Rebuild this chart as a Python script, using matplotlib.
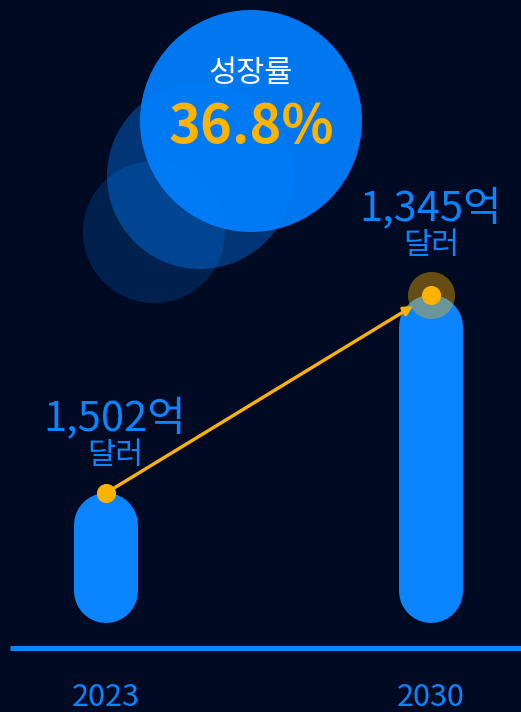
import matplotlib.pyplot as plt
from matplotlib.patches import Circle

plt.rcParams['font.family'] = ['Noto Sans CJK KR', 'DejaVu Sans']

# data
years = ["2023", "2030"]
amount_labels = ["1,502억", "1,345억"]
unit_label = "달러"
bar_heights = [130, 328]   # bar height as drawn (px units above the baseline)
growth_title = "성장률"
growth_value = "36.8%"

bg = "#000a23"
blue = "#0a84ff"
orange = "#ffb300"

fig = plt.figure(figsize=(5.21, 7.12), dpi=100, facecolor=bg)

# decoration layer in pixel coordinates
deco = fig.add_axes([0, 0, 1, 1])
deco.set_xlim(0, 521)
deco.set_ylim(712, 0)
deco.set_aspect("equal")
deco.axis("off")
deco.set_facecolor(bg)
deco.add_patch(Circle((154, 232), 71, color="#0080ff", alpha=0.2, lw=0))
deco.add_patch(Circle((200, 176), 93, color="#0080ff", alpha=0.38, lw=0))
deco.add_patch(Circle((251, 121), 111, color="#0080ff", alpha=0.93, lw=0))
deco.text(251, 74, growth_title, color="white", fontsize=22, ha="center", va="center")
deco.text(251, 127, growth_value, color=orange, fontsize=39, fontweight="bold",
          ha="center", va="center")

# chart layer
ax = fig.add_axes([0, 0, 1, 1])
ax.patch.set_alpha(0)
ax.set_xlim(-0.326, 1.277)
ax.set_ylim(-89, 623)
ax.axis("off")

bar_w_px = 64
lw_pt = bar_w_px * 72 / 100
r = bar_w_px / 2
for i, h in enumerate(bar_heights):
    ax.plot([i, i], [r, h - r], color=blue, lw=lw_pt, solid_capstyle="round", zorder=2)

# baseline
ax.plot([-0.296, 1.277], [-25, -25], color=blue, lw=3.6, solid_capstyle="butt", zorder=2)

# year labels
for i, y in enumerate(years):
    ax.text(i, -83, y, color=blue, fontsize=22, ha="center", va="baseline")

# arrow between tops
ax.annotate("", xy=(1, bar_heights[1]), xytext=(0, bar_heights[0]),
            arrowprops=dict(arrowstyle="-|>", color=orange, lw=2.4,
                            shrinkA=0, shrinkB=15, mutation_scale=13),
            zorder=4)

# markers
ax.scatter([1], [bar_heights[1]], s=1150, color=orange, alpha=0.4, lw=0, zorder=3)
ax.scatter(range(len(years)), bar_heights, s=190, color=orange, lw=0, zorder=5)

# value labels
offsets = [0, 12]
dx = [0.028, 0]
for i, h in enumerate(bar_heights):
    ax.text(i + dx[i], h + 75 + offsets[i], amount_labels[i], color=blue, fontsize=30,
            ha="center", va="center")
    ax.text(i + dx[i], h + 37 + offsets[i], unit_label, color=blue, fontsize=22,
            ha="center", va="center")

fig.savefig("out.png", dpi=100, facecolor=bg)
